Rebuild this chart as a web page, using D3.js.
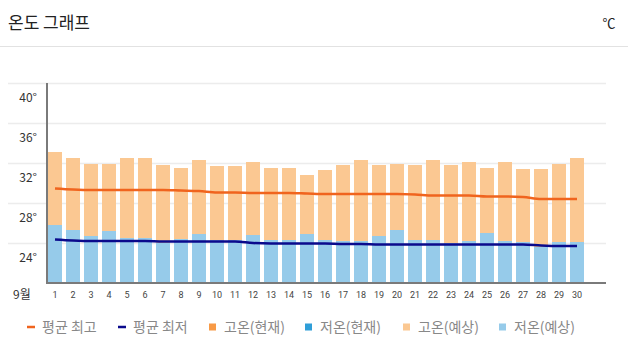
<!DOCTYPE html>
<html><head><meta charset="utf-8">
<script src="https://cdn.jsdelivr.net/npm/d3@7/dist/d3.min.js"></script>
<style>
html,body{margin:0;padding:0;background:#fff;}
svg{display:block;font-family:"Noto Sans CJK KR","Noto Sans",sans-serif;}
</style></head><body>
<svg id="c" width="628" height="355"></svg>
<script>
const days = d3.range(1, 31);
const monthLabel = "9월";
const avgHigh = [31.45,31.35,31.3,31.3,31.3,31.3,31.3,31.25,31.2,31.05,31.05,31.0,31.0,31.0,30.95,30.9,30.9,30.9,30.9,30.9,30.85,30.75,30.75,30.75,30.65,30.65,30.6,30.4,30.4,30.4];
const avgLow = [26.35,26.25,26.2,26.2,26.2,26.2,26.15,26.15,26.15,26.15,26.15,26.0,25.95,25.95,25.95,25.95,25.9,25.9,25.85,25.85,25.85,25.85,25.85,25.85,25.85,25.85,25.85,25.75,25.7,25.7];
const highNow = [];
const lowNow = [];
const highFcst = [35.1,34.5,33.9,33.9,34.5,34.5,33.8,33.5,34.3,33.7,33.7,34.1,33.5,33.5,32.8,33.3,33.8,34.3,33.8,33.9,33.8,34.3,33.8,34.1,33.5,34.1,33.4,33.4,33.9,34.5];
const lowFcst = [27.8,27.3,26.7,27.2,26.5,26.5,26.0,26.4,26.9,26.3,26.3,26.8,26.3,26.3,26.9,26.3,26.2,26.2,26.7,27.3,26.3,26.3,26.0,26.2,27.0,26.2,26.1,25.6,26.1,26.1];
const yTicks = [40,36,32,28,24];
const gridVals = [42,38,34,30,26];
const legendItems = [
  {label:"평균 최고", type:"line", color:"#f0641e"},
  {label:"평균 최저", type:"line", color:"#0a0a8c"},
  {label:"고온(현재)", type:"rect", color:"#f89a46"},
  {label:"저온(현재)", type:"rect", color:"#2f9ed8"},
  {label:"고온(예상)", type:"rect", color:"#fbc892"},
  {label:"저온(예상)", type:"rect", color:"#96cbea"}
];

const svg = d3.select("#c");
// header
svg.append("text").attr("x",8).attr("y",29).attr("font-size",17).attr("fill","#222").text("온도 그래프");
svg.append("text").attr("x",609).attr("y",28).attr("font-size",13).attr("fill","#222").attr("text-anchor","middle").text("℃");
svg.append("line").attr("x1",0).attr("x2",628).attr("y1",46.5).attr("y2",46.5).attr("stroke","#e2e2e2");

const y = d3.scaleLinear().domain([22,42]).range([283,83]);
const x = d3.scaleBand().domain(days).range([48,584]).paddingInner(4/18).paddingOuter(0);

// grid
svg.append("g").selectAll("line").data(gridVals).join("line")
  .attr("x1",8).attr("x2",606).attr("y1",d=>y(d)+0.5).attr("y2",d=>y(d)+0.5)
  .attr("stroke","#ececec").attr("stroke-width",1.5);

// y labels
svg.append("g").selectAll("text").data(yTicks).join("text")
  .attr("x",37).attr("y",d=>y(d)-5).attr("dy","0.35em").attr("text-anchor","end")
  .attr("font-size",12).attr("fill","#333").text(d=>d+"°");

// bars
const all = days.map((d,i)=>({d, hi:highFcst[i], lo:lowFcst[i]}));
svg.append("g").selectAll("rect").data(all).join("rect")
  .attr("x",d=>x(d.d)).attr("width",x.bandwidth())
  .attr("y",d=>y(d.hi)).attr("height",d=>y(22)-y(d.hi)).attr("fill","#fbc892");
svg.append("g").selectAll("rect").data(all).join("rect")
  .attr("x",d=>x(d.d)).attr("width",x.bandwidth())
  .attr("y",d=>y(d.lo)).attr("height",d=>y(22)-y(d.lo)).attr("fill","#96cbea");

// lines
const line = d3.line().x((v,i)=>x(days[i])+x.bandwidth()/2).y(v=>y(v)).curve(d3.curveMonotoneX);
svg.append("path").attr("d",line(avgHigh)).attr("fill","none").attr("stroke","#f0641e").attr("stroke-width",2.5);
svg.append("path").attr("d",line(avgLow)).attr("fill","none").attr("stroke","#0a0a8c").attr("stroke-width",2.5);

// axes lines
svg.append("line").attr("x1",47).attr("x2",606).attr("y1",283).attr("y2",283).attr("stroke","#7a7a7a").attr("stroke-width",2);
svg.append("line").attr("x1",47).attr("x2",47).attr("y1",83).attr("y2",284).attr("stroke","#7a7a7a").attr("stroke-width",2);

// x labels
svg.append("g").selectAll("text").data(days).join("text")
  .attr("x",d=>x(d)+x.bandwidth()/2).attr("y",295).attr("dy","0.35em").attr("text-anchor","middle")
  .attr("font-size",9).attr("fill","#444").attr("font-family","Roboto, sans-serif").text(d=>d);
svg.append("text").attr("x",13).attr("y",295).attr("dy","0.35em").attr("font-size",12).attr("fill","#333").text(monthLabel);

// legend
const lx = [27,118,209,305,403,499];
const lg = svg.append("g").selectAll("g").data(legendItems).join("g")
  .attr("transform",(d,i)=>`translate(${lx[i]},327)`);
lg.filter(d=>d.type==="line").append("rect").attr("x",0).attr("y",-1.25).attr("width",8).attr("height",2.5).attr("fill",d=>d.color);
lg.filter(d=>d.type==="rect").append("rect").attr("x",0).attr("y",-3.5).attr("width",7).attr("height",7).attr("fill",d=>d.color);
lg.append("text").attr("x",15).attr("y",0).attr("dy","0.35em")
  .attr("font-size",14).attr("fill","#888").text(d=>d.label);
</script>
</body></html>
